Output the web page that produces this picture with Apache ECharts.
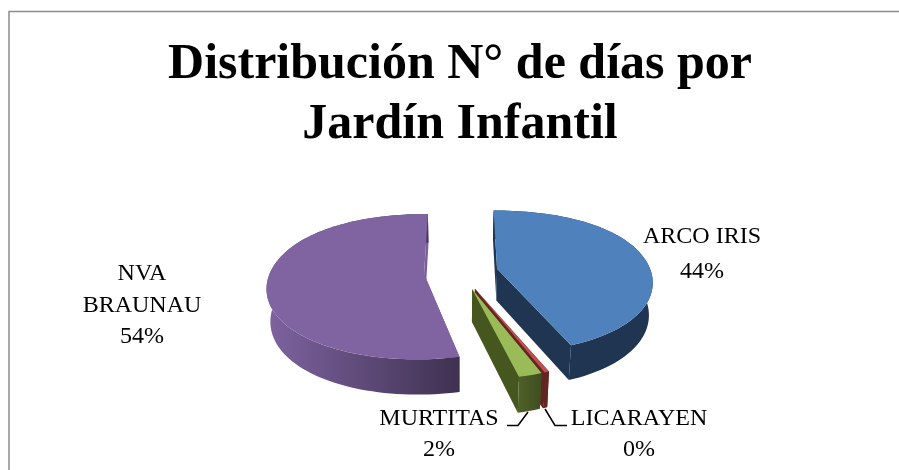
<!DOCTYPE html>
<html>
<head>
<meta charset="utf-8">
<style>html,body{margin:0;padding:0;background:#fff}#chart{width:899px;height:470px}</style>
<script src="https://cdn.jsdelivr.net/npm/echarts@6/dist/echarts.min.js"></script>
</head>
<body>
<div id="chart"></div>
<script>
// datos del grafico
const categories = ['ARCO IRIS', 'LICARAYEN', 'MURTITAS', 'NVA BRAUNAU']
const values = [43.9, 0.4, 2.0, 53.7]

const topColors = ['#4f81bd', '#c0504d', '#9bbb59', '#8064a2']
const faceColors = ['#1f3552', '#632523', '#46561f', '#7a5f9c']
const wallStops = [
  ['#1f3552', '#1f3552'],
  ['#632523', '#632523'],
  ['#4f6228', '#3f4d20'],
  ['#7e63a0', '#3f3151']
]

// pastel 3D: proyeccion a mano porque echarts no trae pie 3D
const cx = 461, cy = 272, R = 154, ry = 72, depth = 32, explode = 37
const persp = 0.175, startAngle = 0
const total = values.reduce((a, b) => a + b, 0)

function project (X, Z, bottom) {
  const z = Z / R
  const s = 1 + 0.15 * z + 0.05 * z * z
  const k = bottom ? 0.98 : 1
  return [
    cx + X * s * k,
    cy + ry * z * (1 + persp * z) + (bottom ? depth * (1 + 0.1 * z) : 0)
  ]
}

function renderSlice (params, api) {
  const i = api.value(0)
  let before = 0
  for (let j = 0; j < i; j++) before += values[j]
  const a0 = startAngle + before / total * 360
  const a1 = a0 + values[i] / total * 360
  const mid = (a0 + a1) / 2 * Math.PI / 180
  const ox = Math.sin(mid) * explode
  const oz = -Math.cos(mid) * explode

  const rim = (deg, bottom) => {
    const t = deg * Math.PI / 180
    return project(ox + Math.sin(t) * R, oz - Math.cos(t) * R, bottom)
  }
  const arcPts = (bottom) => {
    const pts = []
    const n = Math.max(2, Math.ceil((a1 - a0) / 2))
    for (let k = 0; k <= n; k++) pts.push(rim(a0 + (a1 - a0) * k / n, bottom))
    return pts
  }
  const apexT = project(ox, oz, false)
  const apexB = project(ox, oz, true)
  const topArc = arcPts(false)
  const botArc = arcPts(true)
  const poly = (points, fill) => ({
    type: 'polygon',
    shape: { points: points },
    style: { fill: fill, stroke: null }
  })
  const wallFill = new echarts.graphic.LinearGradient(0, 0, 1, 0, [
    { offset: 0, color: wallStops[i][0] },
    { offset: 1, color: wallStops[i][1] }
  ])
  return {
    type: 'group',
    children: [
      poly([apexT, topArc[0], botArc[0], apexB], faceColors[i]),
      poly([apexT, topArc[topArc.length - 1], botArc[botArc.length - 1], apexB], faceColors[i]),
      poly(topArc.concat(botArc.slice().reverse()), wallFill),
      poly([apexT].concat(topArc), topColors[i])
    ]
  }
}

const pct = values.map(v => Math.round(v / total * 100) + '%')
const labelFont = '"Liberation Serif", serif'
const labelText = (text, x, y) => ({
  type: 'text',
  x: x,
  y: y,
  style: { text: text, font: '24px ' + labelFont, fill: '#000', textAlign: 'center', textVerticalAlign: 'middle' }
})
const leader = (points) => ({
  type: 'polyline',
  shape: { points: points },
  style: { stroke: '#000', lineWidth: 1.5, fill: null }
})

const myChart = echarts.init(document.getElementById('chart'))
myChart.setOption({
  animation: false,
  backgroundColor: '#fff',
  title: {
    text: 'Distribución N° de días por\nJardín Infantil',
    left: 455,
    top: 30,
    textAlign: 'center',
    textStyle: { fontFamily: 'Liberation Serif', fontWeight: 'bold', fontSize: 50, lineHeight: 60, color: '#000' }
  },
  graphic: [
    { type: 'polyline', shape: { points: [[9, 470], [9, 11.5], [899, 11.5]] }, style: { stroke: '#8c8c8c', lineWidth: 1.5, fill: null } },
    labelText(categories[0], 702, 237),
    labelText(pct[0], 702, 272),
    labelText('NVA', 142, 274),
    labelText('BRAUNAU', 142, 306),
    labelText(pct[3], 142, 337),
    labelText(categories[2], 439, 419),
    labelText(pct[2], 439, 450),
    labelText(categories[1], 639, 419),
    labelText(pct[1], 639, 450),
    leader([[507, 425.5], [518, 425.5], [528, 412]]),
    leader([[545, 409], [555, 425.5], [567, 425.5]])
  ],
  series: [{
    type: 'custom',
    coordinateSystem: 'none',
    renderItem: renderSlice,
    // orden de pintado: el verde tapa la cara del rojo
    data: [[3], [0], [1], [2]]
  }]
})
</script>
</body>
</html>
